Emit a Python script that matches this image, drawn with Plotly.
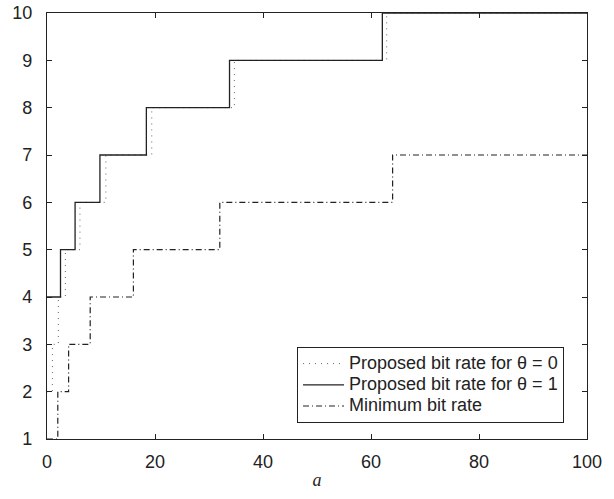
import plotly.graph_objects as go

# Data
a_theta0 = [0, 1.0, 2.1, 3.4, 6.1, 10.9, 19.4, 34.7, 62.9, 100]
r_theta0 = [2, 3, 4, 5, 6, 7, 8, 9, 10, 10]
a_theta1 = [0, 2.5, 5.2, 9.8, 18.4, 33.8, 62.1, 100]
r_theta1 = [4, 5, 6, 7, 8, 9, 10, 10]
a_min = [0, 2, 4, 8, 16, 32, 64, 100]
r_min = [1, 2, 3, 4, 5, 6, 7, 7]

x_ticks = [0, 20, 40, 60, 80, 100]
y_ticks = [1, 2, 3, 4, 5, 6, 7, 8, 9, 10]

names = ["Proposed bit rate for θ = 0", "Proposed bit rate for θ = 1", "Minimum bit rate"]


def big(s):
    return '<span style="font-size:18px">' + s + '</span>'


fig = go.Figure()
fig.add_trace(go.Scatter(x=a_theta0, y=r_theta0, mode="lines", line_shape="hv",
                         name=big(names[0]),
                         line=dict(color="#666666", width=1, dash="1px,5px")))
fig.add_trace(go.Scatter(x=a_theta1, y=r_theta1, mode="lines", line_shape="hv",
                         name=big(names[1]),
                         line=dict(color="#222222", width=1.3)))
fig.add_trace(go.Scatter(x=a_min, y=r_min, mode="lines", line_shape="hv",
                         name=big(names[2]),
                         line=dict(color="#222222", width=1.2, dash="6px,3px,1px,3px")))

axis_common = dict(showgrid=False, zeroline=False, showline=True, linecolor="#222222",
                   linewidth=1.3, mirror="ticks", ticks="inside", ticklen=5,
                   tickcolor="#222222", tickwidth=1.3, automargin=False,
                   tickfont=dict(family="Liberation Sans, Arial", size=18, color="#222222"))

fig.update_layout(
    width=614, height=499,
    margin=dict(l=47, r=27, t=13, b=60),
    paper_bgcolor="white", plot_bgcolor="white",
    xaxis=dict(range=[0, 100], tickvals=x_ticks, ticklabelstandoff=6, **axis_common,
               title=dict(text="<i>a</i>", standoff=2,
                          font=dict(family="Liberation Serif, Times New Roman", size=18, color="#222222"))),
    yaxis=dict(range=[1, 10], tickvals=y_ticks, ticklabelstandoff=10, **axis_common),
    legend=dict(x=0.463, y=0.216, xanchor="left", yanchor="top",
                bordercolor="#222222", borderwidth=1, bgcolor="white",
                font=dict(family="Liberation Sans, Arial", size=14, color="#222222"),
                itemwidth=41, tracegroupgap=0),
    showlegend=True,
)
fig.write_html("out.html", config={"displayModeBar": False},
               post_script="document.body.style.margin='0';")
